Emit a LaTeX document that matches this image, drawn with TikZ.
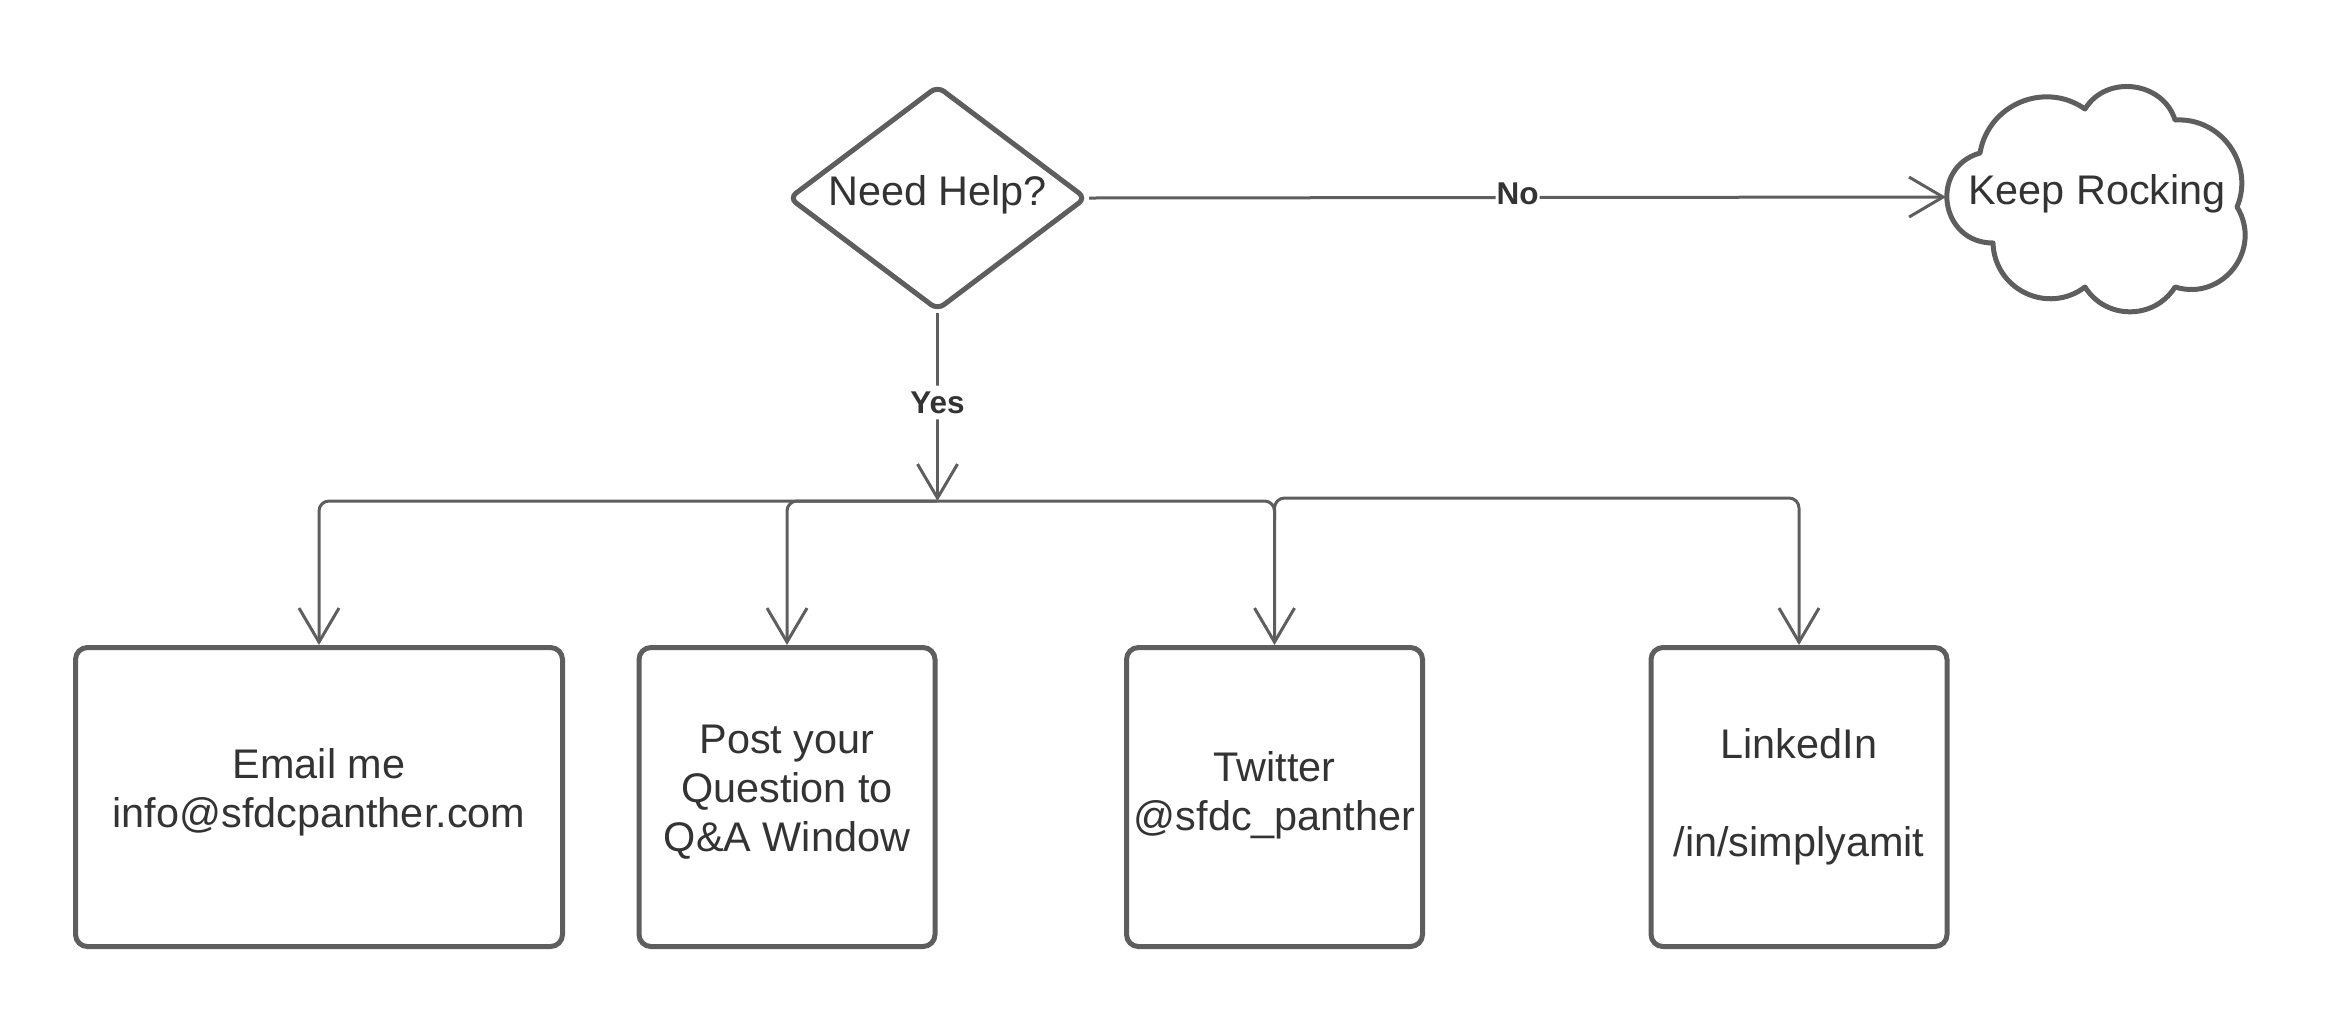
\documentclass[tikz,border=0pt]{standalone}
\usepackage{fontspec}
\setmainfont{Liberation Sans}
\usetikzlibrary{shapes.geometric,arrows.meta}
\definecolor{ln}{HTML}{5E5E5E}
\definecolor{tx}{HTML}{333333}
\tikzset{
  conn/.style={draw=ln, line width=1.5pt, rounded corners=5pt, -{Straight Barb[length=17pt,width=20pt]}},
  txtfont/.style={font=\fontsize{20.7}{24.5}\selectfont, text=tx},
  box/.style={draw=ln, line width=2.5pt, rounded corners=6pt, minimum height=149.5pt, inner sep=0pt},
  boxtext/.style={align=center, inner sep=0pt, txtfont},
  lbl/.style={fill=white, font=\bfseries\fontsize{15.75}{18}\selectfont, text=tx, inner xsep=0.5pt, inner ysep=3pt},
}
\begin{document}
\begin{tikzpicture}[x=0.5pt,y=0.5pt]
\useasboundingbox (0,0) rectangle (2340,-1024);
% decision
\node[diamond, draw=ln, line width=2.5pt, rounded corners=4pt, aspect=1.33,
      minimum width=149pt, minimum height=112.5pt, inner sep=0pt] (d) at (937.5,-198) {};
\node[txtfont, inner sep=0pt] (dt) at ([yshift=1.5pt]d.center) {Need Help?};
% cloud
\draw[ln, line width=2.5pt, line join=round]
  (1993,-243) to[out=180,in=196,looseness=1.5] (1980,-153)
  to[out=80.5,in=144.9,looseness=1.11] (2085,-109)
  to[out=58.8,in=107.2,looseness=1.15] (2175,-120)
  to[out=3.5,in=67.5,looseness=1.11] (2237,-207)
  to[out=301.5,in=342.9,looseness=1.26] (2175,-287)
  to[out=238.1,in=301.9,looseness=1.11] (2085,-287)
  to[out=217.1,in=271.7,looseness=1.17] (1993,-243) -- cycle;
\node[txtfont, inner sep=0pt] (kr) at (2097,-194) {Keep Rocking};
\coordinate (cw) at (1946,-197);
% boxes
\node[box, minimum width=243.5pt] (b1) at (319,-797) {};
\node[box, minimum width=148pt] (b2) at (787,-797) {};
\node[box, minimum width=148pt] (b3) at (1274.5,-797) {};
\node[box, minimum width=148pt] (b4) at (1799,-797) {};
\node[boxtext] (t1) at ([yshift=2.5pt]b1.center) {Email me\\info@sfdcpanther.com};
\node[boxtext] (t2) at ([yshift=2.5pt]b2.center) {Post your\\Question to\\Q\&A Window};
\node[boxtext] (t3) at ([yshift=1pt]b3.center) {Twitter\\@sfdc\_panther};
\node[boxtext] (t4) at (b4.center) {LinkedIn\\\strut\\/in/simplyamit};
% connectors
\coordinate (J) at (937.5,-501);
\coordinate (J4) at (1274.5,-520);
\coordinate (K4) at (1274.5,-498);
\draw[conn] (d.east) -- node[lbl, pos=0.5, yshift=2pt]{No} (cw);
\draw[conn] (d.south) -- node[lbl, pos=0.476]{Yes} (J);
\draw[conn] (J) -| (b1.north);
\draw[conn] (J) -| (b2.north);
\draw[conn] (J) -| (b3.north);
\draw[conn] (J4) -- (K4) -| (b4.north);
\end{tikzpicture}
\end{document}
